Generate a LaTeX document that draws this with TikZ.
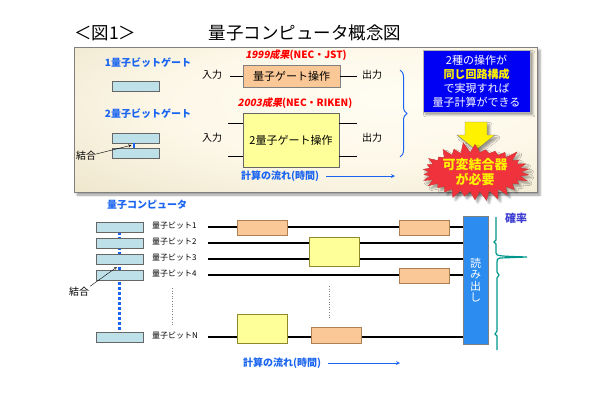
\documentclass[tikz,border=0pt]{standalone}
\usepackage{fontspec}
\setmainfont{Noto Sans CJK JP}
\newfontfamily\slantjp[FakeSlant=0.2,BoldFeatures={FakeSlant=0.2}]{Noto Sans CJK JP}
\usepackage{xcolor}
\usetikzlibrary{positioning,shapes.symbols,shadows.blur,decorations.pathreplacing,backgrounds}

\definecolor{jblue}{RGB}{25,100,240}
\definecolor{kblue}{RGB}{60,60,210}
\definecolor{boxblue}{RGB}{0,0,245}
\definecolor{roblue}{RGB}{45,140,240}
\definecolor{qcyan}{RGB}{190,224,232}
\definecolor{gorange}{RGB}{250,200,150}
\definecolor{gyellow}{RGB}{255,255,153}
\definecolor{starred}{RGB}{240,50,60}
\definecolor{probteal}{RGB}{0,150,140}

\pgfdeclareradialshading{panelshade}{\pgfpoint{10bp}{8bp}}{%
  rgb(0bp)=(1,0.99,0.95); rgb(22bp)=(0.99,0.97,0.91); rgb(50bp)=(0.91,0.87,0.75); rgb(70bp)=(0.86,0.81,0.68)}

\newcommand\fs[2]{\fontsize{#1}{#2}\selectfont}

\tikzset{
  qbox/.style={draw=gray!80!black, fill=qcyan, minimum width=47pt, minimum height=10pt, inner sep=0pt},
  ogate/.style={draw=brown!70!gray, fill=gorange, minimum width=50pt, minimum height=15pt, inner sep=0pt},
  ygate/.style={draw=olive!70!gray, fill=gyellow, minimum width=50pt, minimum height=29pt, inner sep=0pt},
  bluelbl/.style={text=jblue, font=\fs{10}{12}\bfseries, inner sep=0pt},
  redlbl/.style={text=red, font=\fs{10}{12}\bfseries, inner sep=0pt},
  iolbl/.style={font=\fs{10}{12}, inner sep=0pt},
  qlbl/.style={font=\fs{8}{10}, inner sep=0pt, anchor=west},
  wire/.style={line width=1.3pt},
  flow/.style={jblue, line width=0.8pt, -stealth},
  couple/.style={jblue, line width=2pt},
  pointer/.style={-stealth, line width=0.4pt}
}

\begin{document}
\begin{tikzpicture}[x=1pt,y=-1pt]
\useasboundingbox (0,0) rectangle (610,400);

\node[anchor=west, inner sep=0pt, font=\fs{17.5}{20}] (fig) at (74,33) {＜図1＞};
\node[inner sep=0pt, font=\fs{17.5}{20}] (title) at (305,33) {量子コンピュータ概念図};

\node[draw=gray, shading=panelshade,
      minimum width=463pt, minimum height=145pt, blur shadow={shadow xshift=3pt, shadow yshift=-3pt}] (panel) at (305.5,119.5) {};

\node[bluelbl] (one) at (148,63) {1量子ビットゲート};
\node[qbox] (b1) at (135.5,86) {};
\node[bluelbl] (two) at (148,114) {2量子ビットゲート};
\node[qbox] (b2a) at (135.5,138) {};
\node[qbox] (b2b) at (135.5,153) {};
\draw[couple] ([xshift=-1.5pt]b2a.south) -- ([xshift=-1.5pt]b2b.north);
\node[iolbl] (kt) at (86,156) {結合};
\draw[pointer] ([yshift=2pt]kt.east) -- ([xshift=-4pt,yshift=-2pt]b2a.south);

\node[redlbl] (r1) at (296,55) {{\slantjp 1999成果}(NEC・JST)};
\node[ogate, draw=gray, minimum width=97pt, minimum height=22pt, font=\fs{11}{13}] (g1) at (291.5,76) {量子ゲート操作};
\node[iolbl] (in1) at (212,75) {入力};
\node[iolbl] (out1) at (372,75) {出力};
\draw[line width=1pt] (g1.west) -- ++(-13,0);
\draw[line width=1pt] (g1.east) -- ++(17,0);

\node[redlbl] (r2) at (295,103) {{\slantjp 2003成果}(NEC・RIKEN)};
\node[ygate, draw=gray!80!black, minimum width=96pt, minimum height=54pt, font=\fs{11}{13}] (g2) at (291,140) {2量子ゲート操作};
\node[iolbl] (in2) at (212,138) {入力};
\node[iolbl] (out2) at (372,138) {出力};
\draw[line width=1pt] ([yshift=17pt]g2.west) -- ++(-15,0);
\draw[line width=1pt] ([yshift=-16pt]g2.west) -- ++(-15,0);
\draw[line width=1pt] ([yshift=17pt]g2.east) -- ++(18,0);
\draw[line width=1pt] ([yshift=-16pt]g2.east) -- ++(18,0);

\draw[jblue, line width=1pt, decorate, decoration={brace, amplitude=7pt}] (400,70) -- (400,157);

\node[bluelbl] (flow1) at (280,176) {計算の流れ(時間)};
\draw[flow] ([xshift=7pt]flow1.east) -- (395,176);

\node[fill=boxblue, draw=gray!60, text=white, align=center, font=\fs{11}{14},
      minimum width=107pt, minimum height=62pt, inner sep=0pt, blur shadow] (same) at (476.5,81)
  {2種の操作が\\{\color{yellow}\bfseries 同じ回路構成}\\で実現すれば\\量子計算ができる};

\filldraw[fill=yellow, draw=gray, blur shadow] (465,122) -- (487,122) -- (487,135) -- (495,135)
  -- (476,150) -- (457,135) -- (465,135) -- cycle;

\node[starburst, starburst points=30, starburst point height=11pt, random starburst=11,
      fill=starred, draw=red!60!gray, minimum width=104pt, minimum height=46pt, inner sep=0pt,
      text=yellow, align=center, font=\fs{13}{15}\bfseries, blur shadow] (need) at (475,172)
  {可変結合器\\が必要};

\node[bluelbl] (qc) at (147,205) {量子コンピュータ};
\node[qbox] (q1) at (119.5,227) {};
\node[qbox] (q2) at (119.5,243) {};
\node[qbox] (q3) at (119.5,259) {};
\node[qbox] (q4) at (119.5,275) {};
\node[qbox] (qN) at (119.5,337) {};
\begin{scope}[on background layer]
  \draw[jblue, line width=2.5pt, dash pattern=on 2.5pt off 2.5pt] (q1.center) -- (qN.center);
\end{scope}
\node[qlbl] (l1) at (152,226) {量子ビット1};
\node[qlbl] (l2) at (152,242) {量子ビット2};
\node[qlbl] (l3) at (152,258) {量子ビット3};
\node[qlbl] (l4) at (152,274) {量子ビット4};
\node[qlbl] (lN) at (152,336) {量子ビットN};
\draw[gray, line width=0.6pt, dotted] (172,288) -- (172,325);

\node[iolbl] (kb) at (79,292) {結合};
\draw[pointer] ([xshift=1pt,yshift=1pt]kb.north east) -- (117,267);

\node[fill=roblue, draw=gray, minimum width=25pt, minimum height=128pt, inner sep=0pt,
      text=white, align=center, font=\fs{11}{11.5}] (ro) at (475.5,280) {読\\み\\出\\し};

\foreach \n/\y in {1/227, 2/243, 3/259, 4/275, N/337}
  \coordinate (s\n) at (208,\y);
\foreach \n in {1,2,3,4,N}
  \draw[wire] (s\n) -- (s\n -| ro.west);

\node[ogate] (ga) at (262,227.5) {};
\node[ogate] (gb) at (424,227.5) {};
\node[ygate] (gc) at (334.5,251.5) {};
\node[ogate] (gd) at (424,275.5) {};
\node[ygate] (ge) at (262,328.5) {};
\node[ogate, minimum height=16pt] (gf) at (336,335) {};
\draw[gray, line width=0.6pt, dotted] (329,286) -- (329,319);

\draw[probteal, line width=1.2pt] (496,217) -- (496,240) -- (494,242) -- (496,244) -- (496,253)
  .. controls (497,256) .. (527,257) -- (500,258) .. controls (497,259) .. (497,262)
  -- (497,272) -- (499,275) -- (497,278) -- (497,331) -- (495,334) -- (497,336) -- (497,350);
\node[text=kblue, font=\fs{11}{13}\bfseries, inner sep=0pt] (prob) at (516,218) {確率};

\node[bluelbl] (flow2) at (282,363) {計算の流れ(時間)};
\draw[flow] ([xshift=7pt]flow2.east) -- (400,363);

\end{tikzpicture}
\end{document}
